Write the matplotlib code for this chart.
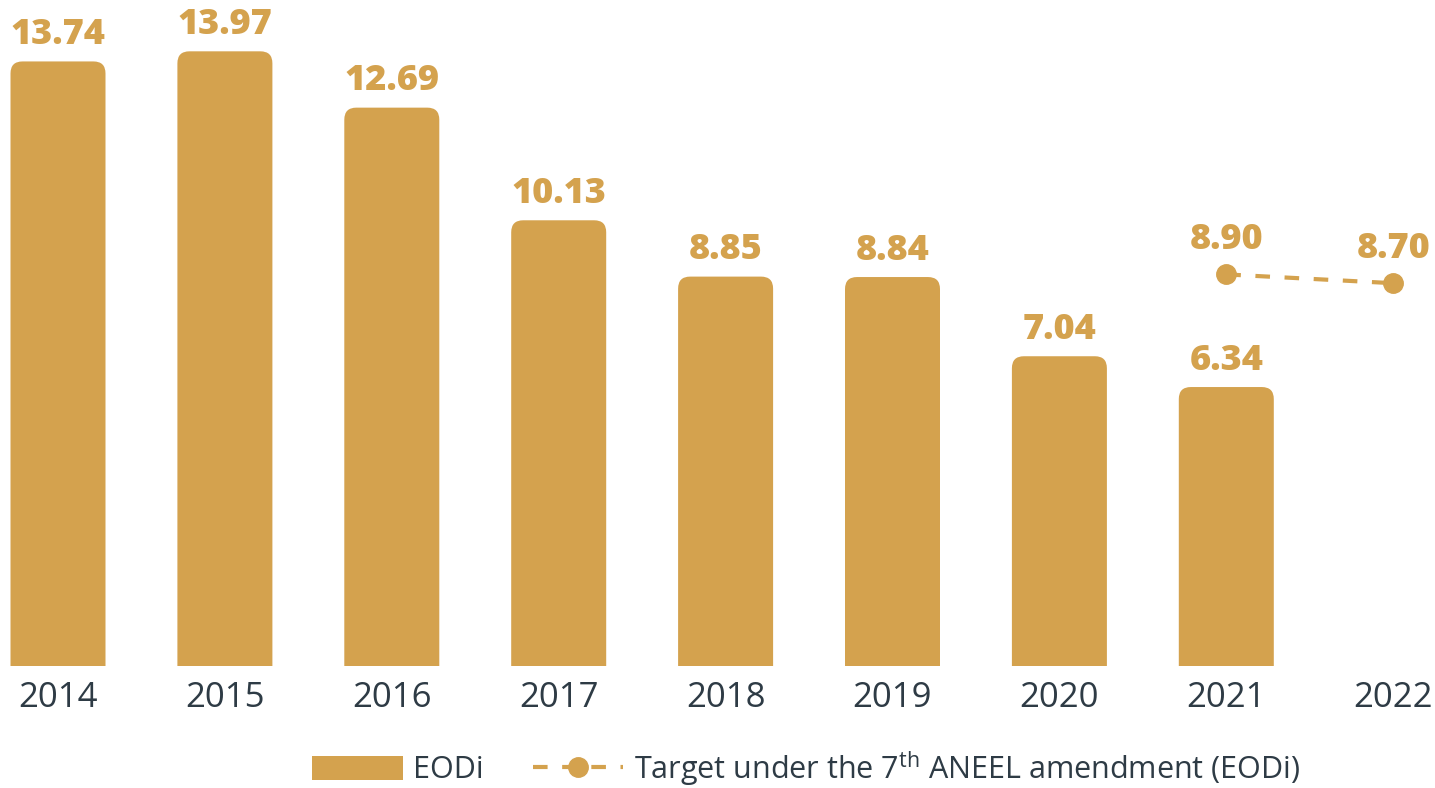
import matplotlib
matplotlib.use("Agg")
import matplotlib.pyplot as plt
from matplotlib.patches import FancyBboxPatch, Patch
from matplotlib.lines import Line2D

years = ["2014", "2015", "2016", "2017", "2018", "2019", "2020", "2021", "2022"]
eodi = [13.74, 13.97, 12.69, 10.13, 8.85, 8.84, 7.04, 6.34]
target_years_idx = [7, 8]
target = [8.90, 8.70]
eodi_labels = ["13.74", "13.97", "12.69", "10.13", "8.85", "8.84", "7.04", "6.34"]
target_labels = ["8.90", "8.70"]

GOLD = "#D4A24E"
TEXT = "#2E3B45"

plt.rcParams['font.family'] = ['Open Sans', 'DejaVu Sans']
plt.rcParams['mathtext.fontset'] = 'custom'
plt.rcParams['mathtext.rm'] = 'Open Sans'

W, H = 1435, 788
fig = plt.figure(figsize=(W / 100, H / 100), dpi=100)
ax_bottom = (H - 666) / H
ax = fig.add_axes([0, ax_bottom, 1, 1 - ax_bottom])

px_per_x = 166.9
px_per_y = 44.0
x0 = -58 / px_per_x
ax.set_xlim(x0, x0 + W / px_per_x)
ax.set_ylim(0, 666 / px_per_y)

bw = 95 / px_per_x
r = 12 / px_per_x
for i, v in enumerate(eodi):
    p = FancyBboxPatch((i - bw / 2, -2), bw, v + 2,
                       boxstyle=f"round,pad=0,rounding_size={r}",
                       mutation_aspect=px_per_x / px_per_y,
                       facecolor=GOLD, edgecolor="none", clip_on=True)
    ax.add_patch(p)
    ax.annotate(eodi_labels[i], (i, v), xytext=(0, 6), textcoords="offset points",
                ha="center", va="bottom", fontsize=26, fontweight=800, color=GOLD)

ax.plot(target_years_idx, target, color=GOLD, lw=3, ls=(0, (3.5, 3.5)),
        marker="o", markersize=14, clip_on=False)
for xi, v, lab in zip(target_years_idx, target, target_labels):
    ax.annotate(lab, (xi, v), xytext=(0, 12), textcoords="offset points",
                ha="center", va="bottom", fontsize=26, fontweight=800, color=GOLD)

ax.set_xticks(range(len(years)))
ax.set_xticklabels(years, fontsize=25, color=TEXT)
ax.tick_params(axis="x", length=0, pad=11)
ax.set_yticks([])
for s in ax.spines.values():
    s.set_visible(False)

handles = [Patch(facecolor=GOLD, edgecolor="none"),
           Line2D([0], [0], color=GOLD, lw=3, ls=(0, (3.5, 3.5)), marker="o", markersize=14)]
labels = ["EODi", "Target under the 7$^{\\mathrm{th}}$ ANEEL amendment (EODi)"]
leg = fig.legend(handles, labels, loc="center", bbox_to_anchor=(806 / W, 1 - 768 / H),
                 ncol=2, frameon=False, fontsize=22, handlelength=2.95, handleheight=0.8,
                 columnspacing=1.6, handletextpad=0.35, labelcolor=TEXT)

fig.savefig("out.png", dpi=100)
